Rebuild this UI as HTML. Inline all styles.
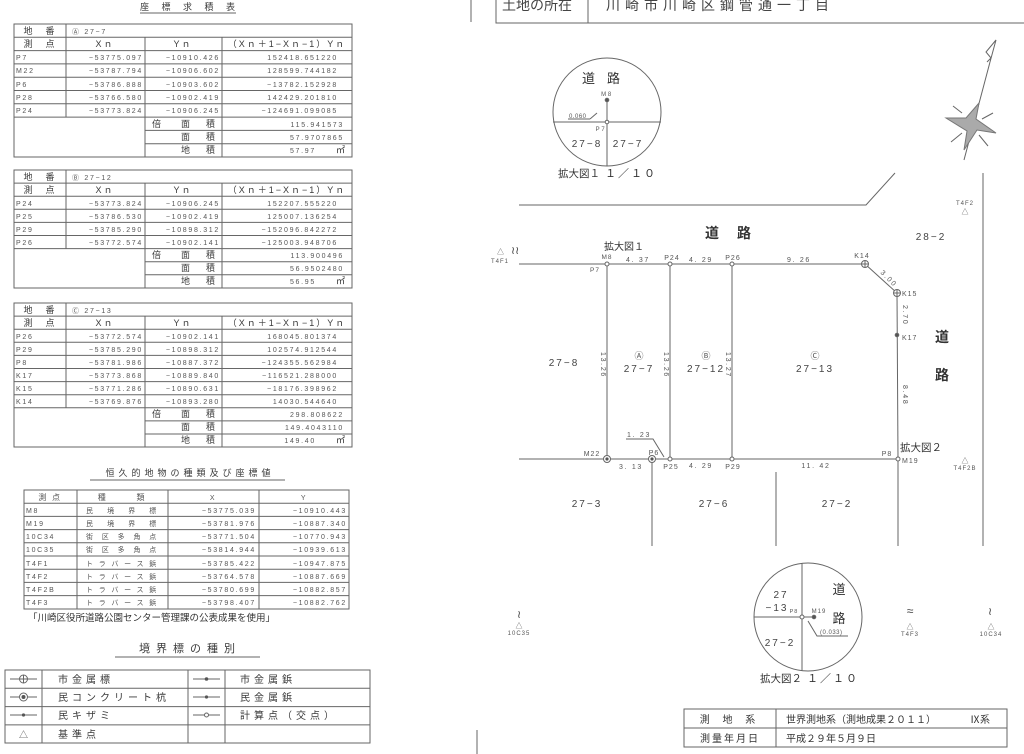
<!DOCTYPE html>
<html><head><meta charset="utf-8"><style>
html,body{margin:0;padding:0;background:#fff;}
svg{display:block;}
text{font-family:"Liberation Sans","Noto Sans CJK JP",sans-serif;fill:#3a3a3a;}
.s{font-size:7px;letter-spacing:1.7px;fill:#555;}
.h{font-size:9px;letter-spacing:2px;}
.j{font-size:10px;letter-spacing:1px;}
.b{font-size:14px;font-weight:bold;fill:#333;}
.n{font-size:10px;letter-spacing:2px;fill:#444;}
line,rect,path,circle,polyline{stroke:#666;fill:none;stroke-width:1;}
</style></head><body>
<svg width="1024" height="754" viewBox="0 0 1024 754" xmlns="http://www.w3.org/2000/svg">
<text x="190" y="10" class="h" text-anchor="middle" style="letter-spacing:5px">座 標 求 積 表</text>
<line x1="140" y1="13" x2="236" y2="13"/>

<rect x="14" y="24" width="338" height="133"/>
<line x1="14" y1="37.3" x2="352" y2="37.3"/><line x1="14" y1="50.6" x2="352" y2="50.6"/>
<line x1="14" y1="63.9" x2="352" y2="63.9"/><line x1="14" y1="77.2" x2="352" y2="77.2"/>
<line x1="14" y1="90.5" x2="352" y2="90.5"/><line x1="14" y1="103.8" x2="352" y2="103.8"/>
<line x1="14" y1="117.1" x2="352" y2="117.1"/>
<line x1="145" y1="130.4" x2="352" y2="130.4"/><line x1="145" y1="143.7" x2="352" y2="143.7"/>
<line x1="66" y1="24" x2="66" y2="117.1"/><line x1="145" y1="37.3" x2="145" y2="157"/><line x1="222" y1="37.3" x2="222" y2="157"/>
<text x="40" y="34" class="h" text-anchor="middle">地　番</text><text x="72" y="34" class="s">Ⓐ 27−7</text>
<text x="40" y="47" class="h" text-anchor="middle">測　点</text><text x="105" y="47" class="h" text-anchor="middle">Xｎ</text><text x="183" y="47" class="h" text-anchor="middle">Yｎ</text><text x="287" y="47" class="h" text-anchor="middle">（Xｎ＋1−Xｎ−1）Yｎ</text>
<text x="16" y="60" class="s">P7</text><text x="143" y="60" class="s" text-anchor="end">−53775.097</text><text x="220" y="60" class="s" text-anchor="end">−10910.426</text><text x="338" y="60" class="s" text-anchor="end">152418.651220</text>
<text x="16" y="73" class="s">M22</text><text x="143" y="73" class="s" text-anchor="end">−53787.794</text><text x="220" y="73" class="s" text-anchor="end">−10906.602</text><text x="338" y="73" class="s" text-anchor="end">128599.744182</text>
<text x="16" y="87" class="s">P6</text><text x="143" y="87" class="s" text-anchor="end">−53786.888</text><text x="220" y="87" class="s" text-anchor="end">−10903.602</text><text x="338" y="87" class="s" text-anchor="end">−13782.152928</text>
<text x="16" y="100" class="s">P28</text><text x="143" y="100" class="s" text-anchor="end">−53766.580</text><text x="220" y="100" class="s" text-anchor="end">−10902.419</text><text x="338" y="100" class="s" text-anchor="end">142429.201810</text>
<text x="16" y="113" class="s">P24</text><text x="143" y="113" class="s" text-anchor="end">−53773.824</text><text x="220" y="113" class="s" text-anchor="end">−10906.245</text><text x="338" y="113" class="s" text-anchor="end">−124691.099085</text>
<text x="152" y="127" class="h">倍</text><text x="181" y="127" class="h">面</text><text x="206" y="127" class="h">積</text><text x="344" y="127" class="s" text-anchor="end">115.941573</text>
<text x="181" y="140" class="h">面</text><text x="206" y="140" class="h">積</text><text x="344" y="140" class="s" text-anchor="end">57.9707865</text>
<text x="181" y="153" class="h">地</text><text x="206" y="153" class="h">積</text><text x="316" y="153" class="s" text-anchor="end">57.97</text><text x="336" y="153" class="h">㎡</text>

<rect x="14" y="170" width="338" height="118"/>
<line x1="14" y1="183.1" x2="352" y2="183.1"/><line x1="14" y1="196.2" x2="352" y2="196.2"/>
<line x1="14" y1="209.3" x2="352" y2="209.3"/><line x1="14" y1="222.4" x2="352" y2="222.4"/>
<line x1="14" y1="235.5" x2="352" y2="235.5"/><line x1="14" y1="248.6" x2="352" y2="248.6"/>
<line x1="145" y1="261.7" x2="352" y2="261.7"/><line x1="145" y1="274.8" x2="352" y2="274.8"/>
<line x1="66" y1="170" x2="66" y2="248.6"/><line x1="145" y1="183.1" x2="145" y2="288"/><line x1="222" y1="183.1" x2="222" y2="288"/>
<text x="40" y="180" class="h" text-anchor="middle">地　番</text><text x="72" y="180" class="s">Ⓑ 27−12</text>
<text x="40" y="193" class="h" text-anchor="middle">測　点</text><text x="105" y="193" class="h" text-anchor="middle">Xｎ</text><text x="183" y="193" class="h" text-anchor="middle">Yｎ</text><text x="287" y="193" class="h" text-anchor="middle">（Xｎ＋1−Xｎ−1）Yｎ</text>
<text x="16" y="206" class="s">P24</text><text x="143" y="206" class="s" text-anchor="end">−53773.824</text><text x="220" y="206" class="s" text-anchor="end">−10906.245</text><text x="338" y="206" class="s" text-anchor="end">152207.555220</text>
<text x="16" y="219" class="s">P25</text><text x="143" y="219" class="s" text-anchor="end">−53786.530</text><text x="220" y="219" class="s" text-anchor="end">−10902.419</text><text x="338" y="219" class="s" text-anchor="end">125007.136254</text>
<text x="16" y="232" class="s">P29</text><text x="143" y="232" class="s" text-anchor="end">−53785.290</text><text x="220" y="232" class="s" text-anchor="end">−10898.312</text><text x="338" y="232" class="s" text-anchor="end">−152096.842272</text>
<text x="16" y="245" class="s">P26</text><text x="143" y="245" class="s" text-anchor="end">−53772.574</text><text x="220" y="245" class="s" text-anchor="end">−10902.141</text><text x="338" y="245" class="s" text-anchor="end">−125003.948706</text>
<text x="152" y="258" class="h">倍</text><text x="181" y="258" class="h">面</text><text x="206" y="258" class="h">積</text><text x="344" y="258" class="s" text-anchor="end">113.900496</text>
<text x="181" y="271" class="h">面</text><text x="206" y="271" class="h">積</text><text x="344" y="271" class="s" text-anchor="end">56.9502480</text>
<text x="181" y="284" class="h">地</text><text x="206" y="284" class="h">積</text><text x="316" y="284" class="s" text-anchor="end">56.95</text><text x="336" y="284" class="h">㎡</text>

<rect x="14" y="303" width="338" height="144"/>
<line x1="14" y1="316.1" x2="352" y2="316.1"/><line x1="14" y1="329.2" x2="352" y2="329.2"/>
<line x1="14" y1="342.3" x2="352" y2="342.3"/><line x1="14" y1="355.4" x2="352" y2="355.4"/>
<line x1="14" y1="368.5" x2="352" y2="368.5"/><line x1="14" y1="381.6" x2="352" y2="381.6"/>
<line x1="14" y1="394.7" x2="352" y2="394.7"/><line x1="14" y1="407.8" x2="352" y2="407.8"/>
<line x1="145" y1="420.9" x2="352" y2="420.9"/><line x1="145" y1="434" x2="352" y2="434"/>
<line x1="66" y1="303" x2="66" y2="407.8"/><line x1="145" y1="316.1" x2="145" y2="447"/><line x1="222" y1="316.1" x2="222" y2="447"/>
<text x="40" y="313" class="h" text-anchor="middle">地　番</text><text x="72" y="313" class="s">Ⓒ 27−13</text>
<text x="40" y="326" class="h" text-anchor="middle">測　点</text><text x="105" y="326" class="h" text-anchor="middle">Xｎ</text><text x="183" y="326" class="h" text-anchor="middle">Yｎ</text><text x="287" y="326" class="h" text-anchor="middle">（Xｎ＋1−Xｎ−1）Yｎ</text>
<text x="16" y="339" class="s">P26</text><text x="143" y="339" class="s" text-anchor="end">−53772.574</text><text x="220" y="339" class="s" text-anchor="end">−10902.141</text><text x="338" y="339" class="s" text-anchor="end">168045.801374</text>
<text x="16" y="352" class="s">P29</text><text x="143" y="352" class="s" text-anchor="end">−53785.290</text><text x="220" y="352" class="s" text-anchor="end">−10898.312</text><text x="338" y="352" class="s" text-anchor="end">102574.912544</text>
<text x="16" y="365" class="s">P8</text><text x="143" y="365" class="s" text-anchor="end">−53781.986</text><text x="220" y="365" class="s" text-anchor="end">−10887.372</text><text x="338" y="365" class="s" text-anchor="end">−124355.562984</text>
<text x="16" y="378" class="s">K17</text><text x="143" y="378" class="s" text-anchor="end">−53773.868</text><text x="220" y="378" class="s" text-anchor="end">−10889.840</text><text x="338" y="378" class="s" text-anchor="end">−116521.288000</text>
<text x="16" y="391" class="s">K15</text><text x="143" y="391" class="s" text-anchor="end">−53771.286</text><text x="220" y="391" class="s" text-anchor="end">−10890.631</text><text x="338" y="391" class="s" text-anchor="end">−18176.398962</text>
<text x="16" y="404" class="s">K14</text><text x="143" y="404" class="s" text-anchor="end">−53769.876</text><text x="220" y="404" class="s" text-anchor="end">−10893.280</text><text x="338" y="404" class="s" text-anchor="end">14030.544640</text>
<text x="152" y="417" class="h">倍</text><text x="181" y="417" class="h">面</text><text x="206" y="417" class="h">積</text><text x="344" y="417" class="s" text-anchor="end">298.808622</text>
<text x="181" y="430" class="h">面</text><text x="206" y="430" class="h">積</text><text x="344" y="430" class="s" text-anchor="end">149.4043110</text>
<text x="181" y="443" class="h">地</text><text x="206" y="443" class="h">積</text><text x="316" y="443" class="s" text-anchor="end">149.40</text><text x="336" y="443" class="h">㎡</text>

<text x="190" y="476" class="h" text-anchor="middle" style="letter-spacing:4px">恒久的地物の種類及び座標値</text>
<line x1="90" y1="480" x2="285" y2="480"/>
<rect x="24" y="490" width="325" height="119"/>
<line x1="24" y1="503.2" x2="349" y2="503.2"/><line x1="24" y1="516.4" x2="349" y2="516.4"/>
<line x1="24" y1="529.6" x2="349" y2="529.6"/><line x1="24" y1="542.8" x2="349" y2="542.8"/>
<line x1="24" y1="556" x2="349" y2="556"/><line x1="24" y1="569.2" x2="349" y2="569.2"/>
<line x1="24" y1="582.4" x2="349" y2="582.4"/><line x1="24" y1="595.6" x2="349" y2="595.6"/>
<line x1="77" y1="490" x2="77" y2="609"/><line x1="168" y1="490" x2="168" y2="609"/><line x1="259" y1="490" x2="259" y2="609"/>
<text x="50" y="500" class="s" text-anchor="middle" style="font-size:8px">測 点</text><text x="122" y="500" class="s" text-anchor="middle" style="font-size:8px">種　　　類</text><text x="213" y="500" class="s" text-anchor="middle">X</text><text x="304" y="500" class="s" text-anchor="middle">Y</text>
<text x="26" y="513" class="s">M8</text><text x="86" y="513" class="s" textLength="72">民 境 界 標</text><text x="256" y="513" class="s" text-anchor="end">−53775.039</text><text x="347" y="513" class="s" text-anchor="end">−10910.443</text>
<text x="26" y="526" class="s">M19</text><text x="86" y="526" class="s" textLength="72">民 境 界 標</text><text x="256" y="526" class="s" text-anchor="end">−53781.976</text><text x="347" y="526" class="s" text-anchor="end">−10887.340</text>
<text x="26" y="539" class="s">10C34</text><text x="86" y="539" class="s" textLength="72">街 区 多 角 点</text><text x="256" y="539" class="s" text-anchor="end">−53771.504</text><text x="347" y="539" class="s" text-anchor="end">−10770.943</text>
<text x="26" y="552" class="s">10C35</text><text x="86" y="552" class="s" textLength="72">街 区 多 角 点</text><text x="256" y="552" class="s" text-anchor="end">−53814.944</text><text x="347" y="552" class="s" text-anchor="end">−10939.613</text>
<text x="26" y="566" class="s">T4F1</text><text x="86" y="566" class="s" textLength="72">トラバース鋲</text><text x="256" y="566" class="s" text-anchor="end">−53785.422</text><text x="347" y="566" class="s" text-anchor="end">−10947.875</text>
<text x="26" y="579" class="s">T4F2</text><text x="86" y="579" class="s" textLength="72">トラバース鋲</text><text x="256" y="579" class="s" text-anchor="end">−53764.578</text><text x="347" y="579" class="s" text-anchor="end">−10887.669</text>
<text x="26" y="592" class="s">T4F2B</text><text x="86" y="592" class="s" textLength="72">トラバース鋲</text><text x="256" y="592" class="s" text-anchor="end">−53780.699</text><text x="347" y="592" class="s" text-anchor="end">−10882.857</text>
<text x="26" y="605" class="s">T4F3</text><text x="86" y="605" class="s" textLength="72">トラバース鋲</text><text x="256" y="605" class="s" text-anchor="end">−53798.407</text><text x="347" y="605" class="s" text-anchor="end">−10882.762</text>
<text x="28" y="621" style="font-size:9.5px;fill:#333">「川崎区役所道路公園センター管理課の公表成果を使用」</text>

<text x="190" y="652" class="h" text-anchor="middle" style="font-size:11px;letter-spacing:6px">境界標の種別</text>
<line x1="115" y1="657" x2="260" y2="657"/>
<rect x="5" y="670" width="365" height="73"/>
<line x1="5" y1="688.3" x2="370" y2="688.3"/><line x1="5" y1="706.6" x2="370" y2="706.6"/><line x1="5" y1="724.9" x2="370" y2="724.9"/>
<line x1="42" y1="670" x2="42" y2="743"/><line x1="188" y1="670" x2="188" y2="743"/><line x1="225" y1="670" x2="225" y2="743"/>
<line x1="10" y1="679" x2="37" y2="679"/><circle cx="23.5" cy="679" r="4" style="fill:#fff"/><line x1="23.5" y1="675" x2="23.5" y2="683"/><line x1="19.5" y1="679" x2="27.5" y2="679"/>
<line x1="10" y1="697" x2="37" y2="697"/><circle cx="23.5" cy="697" r="4" style="fill:#fff"/><circle cx="23.5" cy="697" r="2" style="fill:#555;stroke:none"/>
<line x1="10" y1="715" x2="37" y2="715"/><circle cx="23.5" cy="715" r="1.6" style="fill:#555;stroke:none"/>
<text x="23.5" y="738" class="s" text-anchor="middle" style="letter-spacing:0;font-size:9px">△</text>
<line x1="193" y1="679" x2="220" y2="679"/><circle cx="206.5" cy="679" r="1.8" style="fill:#555;stroke:none"/>
<line x1="193" y1="697" x2="220" y2="697"/><circle cx="206.5" cy="697" r="1.6" style="fill:#555;stroke:none"/>
<line x1="193" y1="715" x2="220" y2="715"/><circle cx="206.5" cy="715" r="2" style="fill:#fff"/>
<text x="58" y="683" class="j" style="letter-spacing:4px">市金属標</text>
<text x="58" y="701" class="j" style="letter-spacing:4px">民コンクリート杭</text>
<text x="58" y="719" class="j" style="letter-spacing:4px">民キザミ</text>
<text x="58" y="738" class="j" style="letter-spacing:4px">基準点</text>
<text x="240" y="683" class="j" style="letter-spacing:4px">市金属鋲</text>
<text x="240" y="701" class="j" style="letter-spacing:4px">民金属鋲</text>
<text x="240" y="719" class="j" style="letter-spacing:4px">計算点（交点）</text>

<line x1="471" y1="0" x2="471" y2="22"/><line x1="477" y1="730" x2="477" y2="754"/>

<polyline points="496,0 496,23 1024,23"/>
<line x1="588" y1="0" x2="588" y2="23"/>
<text x="502" y="10" style="font-size:14px;fill:#444">土地の所在</text>
<text x="606" y="10" style="font-size:14px;letter-spacing:5px;fill:#444">川崎市川崎区鋼管通一丁目</text>

<circle cx="607" cy="112" r="54"/>
<line x1="553" y1="122" x2="661" y2="122"/>
<line x1="607" y1="100" x2="607" y2="166"/>
<circle cx="607" cy="100" r="1.8" style="fill:#555"/>
<circle cx="607" cy="122" r="1.8" style="fill:#fff"/>
<text x="607" y="83" text-anchor="middle" style="letter-spacing:12px;font-size:13px;fill:#333">道路</text>
<text x="607" y="96" class="s" text-anchor="middle" style="font-size:6px">M8</text>
<text x="601" y="131" class="s" text-anchor="middle" style="font-size:6px">P7</text>
<text x="587" y="147" class="n" text-anchor="middle">27−8</text>
<text x="628" y="147" class="n" text-anchor="middle">27−7</text>
<text x="569" y="118" class="s" style="font-size:6px;letter-spacing:0.5px">0.060</text>
<line x1="568" y1="119" x2="590" y2="119"/><line x1="590" y1="119" x2="597" y2="113"/>
<text x="558" y="177" style="font-size:10.5px;fill:#333">拡大図１</text><text x="605" y="177" style="font-size:11px;letter-spacing:2px;fill:#333">１／１０</text>

<!-- compass -->
<line x1="964" y1="160" x2="990" y2="62"/>
<polyline points="990,62 996,40 986,52 991,58 987,62"/>
<polygon points="979,103 976,119 996,133 977,130 964,150 967,131 946,118 966,118" style="fill:#aaa;stroke:#777"/>
<line x1="953" y1="106" x2="962" y2="113"/><line x1="993" y1="113" x2="982" y2="119"/>
<line x1="951" y1="142" x2="962" y2="133"/><line x1="988" y1="146" x2="979" y2="135"/>

<polyline points="519,205 866,205 895,173"/>
<line x1="983" y1="173" x2="983" y2="546"/>
<text x="965" y="205" class="s" text-anchor="middle" style="font-size:6px;letter-spacing:1px">T4F2</text>
<text x="965" y="214" class="s" text-anchor="middle" style="font-size:7px;letter-spacing:0">△</text>
<text x="737" y="238" class="b" text-anchor="middle" style="letter-spacing:18px">道路</text>
<text x="931" y="240" class="n" text-anchor="middle">28−2</text>
<text x="604" y="250" style="font-size:10px;fill:#333">拡大図１</text>
<text x="497" y="254" class="s" style="font-size:7px;letter-spacing:0">△</text>
<text x="511" y="254" style="font-size:11px;fill:#444">≀≀</text>
<text x="500" y="263" class="s" text-anchor="middle" style="font-size:6px;letter-spacing:1px">T4F1</text>

<line x1="519" y1="264" x2="865" y2="264"/>
<line x1="865" y1="264" x2="897" y2="293"/>
<line x1="897" y1="293" x2="898" y2="459"/>
<line x1="519" y1="459" x2="898" y2="459"/>
<line x1="607" y1="264" x2="607" y2="459"/>
<line x1="670" y1="264" x2="670" y2="459"/>
<line x1="732" y1="264" x2="732" y2="459"/>
<line x1="652" y1="459" x2="652" y2="546"/>
<line x1="776" y1="472" x2="776" y2="546"/>
<line x1="898" y1="459" x2="898" y2="546"/>
<circle cx="607" cy="264" r="2" style="fill:#fff"/>
<circle cx="670" cy="264" r="2" style="fill:#fff"/>
<circle cx="732" cy="264" r="2" style="fill:#fff"/>
<circle cx="865" cy="264" r="3.5" style="fill:#fff"/><line x1="861.5" y1="264" x2="868.5" y2="264"/><line x1="865" y1="260.5" x2="865" y2="267.5"/>
<circle cx="897" cy="293" r="3.5" style="fill:#fff"/><line x1="893.5" y1="293" x2="900.5" y2="293"/><line x1="897" y1="289.5" x2="897" y2="296.5"/>
<circle cx="897" cy="335" r="1.8" style="fill:#555"/>
<circle cx="607" cy="459" r="3.5" style="fill:#fff"/><circle cx="607" cy="459" r="1.6" style="fill:#555;stroke:none"/>
<circle cx="652" cy="459" r="3.5" style="fill:#fff"/><circle cx="652" cy="459" r="1.6" style="fill:#555;stroke:none"/>
<circle cx="670" cy="459" r="2" style="fill:#fff"/>
<circle cx="732" cy="459" r="2" style="fill:#fff"/>
<circle cx="898" cy="459" r="2" style="fill:#fff"/>

<text x="607" y="259" class="s" text-anchor="middle" style="font-size:6.5px;letter-spacing:1px">M8</text>
<text x="595" y="272" class="s" text-anchor="middle" style="font-size:6.5px;letter-spacing:1px">P7</text>
<text x="638" y="262" class="s" text-anchor="middle">4. 37</text>
<text x="672" y="260" class="s" text-anchor="middle" style="letter-spacing:1px">P24</text>
<text x="701" y="262" class="s" text-anchor="middle">4. 29</text>
<text x="733" y="260" class="s" text-anchor="middle" style="letter-spacing:1px">P26</text>
<text x="799" y="262" class="s" text-anchor="middle">9. 26</text>
<text x="862" y="258" class="s" text-anchor="middle" style="letter-spacing:1px">K14</text>
<text x="880" y="273" class="s" transform="rotate(45 880 273)">3.00</text>
<text x="902" y="296" class="s" style="letter-spacing:1px">K15</text>
<text x="903" y="305" class="s" transform="rotate(90 903 305)">2.70</text>
<text x="902" y="340" class="s" style="letter-spacing:1px">K17</text>
<text x="942" y="342" class="b" text-anchor="middle">道</text>
<text x="942" y="380" class="b" text-anchor="middle">路</text>
<text x="903" y="385" class="s" transform="rotate(90 903 385)">8.48</text>
<text x="601" y="352" class="s" transform="rotate(90 601 352)">13.26</text>
<text x="664" y="352" class="s" transform="rotate(90 664 352)">13.26</text>
<text x="726" y="352" class="s" transform="rotate(90 726 352)">13.27</text>
<text x="639" y="359" class="s" text-anchor="middle" style="font-size:9px;letter-spacing:0">Ⓐ</text>
<text x="706" y="359" class="s" text-anchor="middle" style="font-size:9px;letter-spacing:0">Ⓑ</text>
<text x="815" y="359" class="s" text-anchor="middle" style="font-size:9px;letter-spacing:0">Ⓒ</text>
<text x="639" y="372" class="n" text-anchor="middle">27−7</text>
<text x="706" y="372" class="n" text-anchor="middle">27−12</text>
<text x="815" y="372" class="n" text-anchor="middle">27−13</text>
<text x="564" y="366" class="n" text-anchor="middle">27−8</text>
<text x="627" y="437" class="s">1. 23</text>
<polyline points="626,439 653,439 664,457"/>
<text x="592" y="456" class="s" text-anchor="middle" style="letter-spacing:1px">M22</text>
<text x="654" y="455" class="s" text-anchor="middle" style="letter-spacing:1px">P6</text>
<text x="631" y="469" class="s" text-anchor="middle">3. 13</text>
<text x="671" y="469" class="s" text-anchor="middle" style="letter-spacing:1px">P25</text>
<text x="701" y="468" class="s" text-anchor="middle">4. 29</text>
<text x="733" y="469" class="s" text-anchor="middle" style="letter-spacing:1px">P29</text>
<text x="816" y="468" class="s" text-anchor="middle">11. 42</text>
<text x="887" y="456" class="s" text-anchor="middle" style="letter-spacing:1px">P8</text>
<text x="902" y="463" class="s" style="letter-spacing:1px">M19</text>
<text x="900" y="451" style="font-size:10.5px;fill:#333">拡大図２</text>
<text x="965" y="463" class="s" text-anchor="middle" style="font-size:7px;letter-spacing:0">△</text>
<text x="965" y="470" class="s" text-anchor="middle" style="letter-spacing:1px;font-size:6px">T4F2B</text>
<text x="587" y="507" class="n" text-anchor="middle">27−3</text>
<text x="714" y="507" class="n" text-anchor="middle">27−6</text>
<text x="837" y="507" class="n" text-anchor="middle">27−2</text>

<circle cx="808" cy="617" r="54"/>
<line x1="754" y1="617" x2="802" y2="617"/>
<line x1="802" y1="563" x2="802" y2="671"/>
<line x1="802" y1="617" x2="814" y2="617"/>
<circle cx="802" cy="617" r="2" style="fill:#fff"/>
<circle cx="814" cy="617" r="1.8" style="fill:#555"/>
<text x="781" y="598" class="n" text-anchor="middle">27</text>
<text x="777" y="611" class="n" text-anchor="middle">−13</text>
<text x="839" y="594" text-anchor="middle" style="font-size:13px;fill:#333">道</text>
<text x="839" y="623" text-anchor="middle" style="font-size:13px;fill:#333">路</text>
<text x="794" y="613" class="s" text-anchor="middle" style="font-size:5.5px;letter-spacing:1px">P8</text>
<text x="819" y="613" class="s" text-anchor="middle" style="font-size:6px;letter-spacing:1px">M19</text>
<text x="780" y="646" class="n" text-anchor="middle">27−2</text>
<polyline points="808,621 817,636 848,636"/>
<text x="820" y="634" class="s" style="font-size:6px;letter-spacing:0.5px">(0.033)</text>
<text x="760" y="682" style="font-size:10.5px;fill:#333">拡大図２</text><text x="807" y="682" style="font-size:11px;letter-spacing:2px;fill:#333">１／１０</text>

<text x="519" y="618" style="font-size:11px;fill:#444" text-anchor="middle">≀</text>
<text x="519" y="628" class="s" text-anchor="middle" style="font-size:7px;letter-spacing:0">△</text>
<text x="519" y="635" class="s" text-anchor="middle" style="font-size:6px;letter-spacing:1px">10C35</text>
<text x="910" y="615" style="font-size:12px;fill:#444" text-anchor="middle">≈</text>
<text x="910" y="629" class="s" text-anchor="middle" style="font-size:7px;letter-spacing:0">△</text>
<text x="910" y="636" class="s" text-anchor="middle" style="font-size:6px;letter-spacing:1px">T4F3</text>
<text x="990" y="615" style="font-size:11px;fill:#444" text-anchor="middle">≀</text>
<text x="991" y="629" class="s" text-anchor="middle" style="font-size:7px;letter-spacing:0">△</text>
<text x="991" y="636" class="s" text-anchor="middle" style="font-size:6px;letter-spacing:1px">10C34</text>

<rect x="684" y="709" width="323" height="38"/>
<line x1="684" y1="728" x2="1007" y2="728"/>
<line x1="776" y1="709" x2="776" y2="747"/>
<text x="730" y="723" text-anchor="middle" style="font-size:10px;letter-spacing:5px;fill:#333">測 地 系</text>
<text x="730" y="742" text-anchor="middle" style="font-size:10px;letter-spacing:2px;fill:#333">測量年月日</text>
<text x="786" y="723" style="font-size:10px;fill:#333">世界測地系（測地成果２０１１）</text>
<text x="970" y="723" style="font-size:10px;fill:#333">Ⅸ系</text>
<text x="786" y="742" style="font-size:10px;fill:#333">平成２９年５月９日</text>
</svg>
</body></html>
